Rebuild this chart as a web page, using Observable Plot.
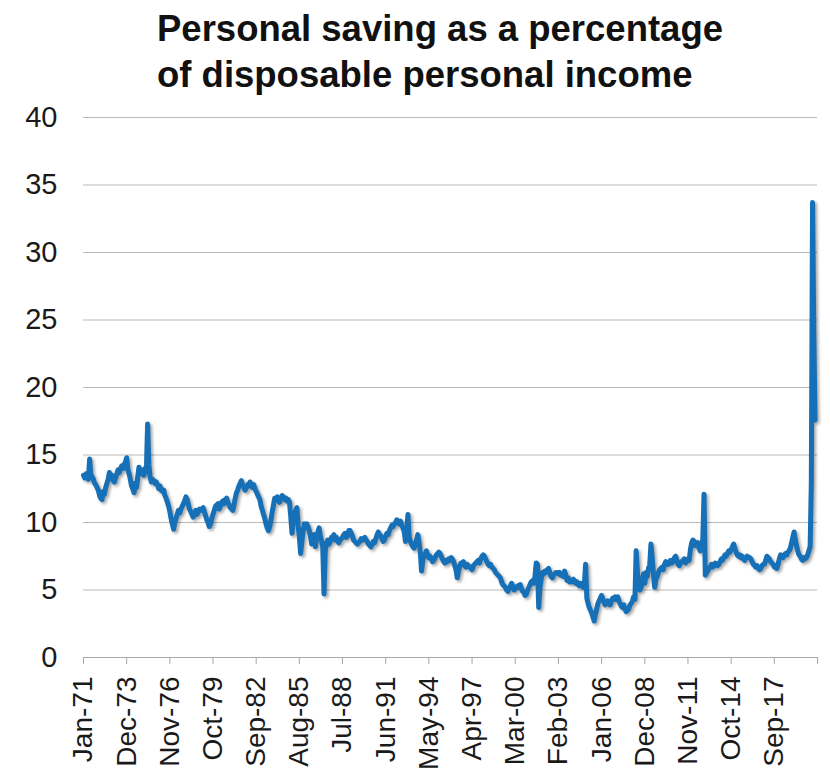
<!DOCTYPE html>
<html>
<head>
<meta charset="utf-8">
<script src="https://cdn.jsdelivr.net/npm/d3@7"></script>
<script src="https://cdn.jsdelivr.net/npm/@observablehq/plot@0.6"></script>
<style>
  html, body { margin: 0; padding: 0; background: #fff; }
  #wrap { position: relative; width: 830px; height: 771px; overflow: hidden; font-family: "Liberation Sans", Arial, sans-serif; }
  #title { position: absolute; left: 157px; top: 6px; font-size: 36.5px; font-weight: bold; line-height: 46px; color: #111; white-space: nowrap; }
  #chart { position: absolute; left: 0; top: 100px; }
</style>
</head>
<body>
<div id="wrap">
  <div id="title">Personal saving as a percentage<br>of disposable personal income</div>
  <div id="chart"></div>
</div>
<script>
// ---- Data (monthly personal saving rate, % of disposable personal income) ----
const firstYear = 1971;           // series starts January 1971
const savingRate = [
  // 1971
  13.5, 13.3, 13.6, 13.4, 13.2, 14.7, 13.5, 13.4, 13.2, 12.9, 12.8, 12.6,
  // 1972
  12.4, 12.0, 11.8, 11.7, 12.3, 12.1, 12.6, 12.9, 13.2, 13.7, 13.4, 13.5,
  // 1973
  13.1, 13.0, 13.3, 13.6, 13.9, 13.7, 14.0, 14.2, 14.0, 14.3, 14.5, 14.8,
  // 1974
  13.9, 13.6, 13.2, 12.7, 12.5, 12.2, 12.9, 12.6, 13.4, 14.1, 13.6, 13.9,
  // 1975
  13.6, 13.5, 14.0, 13.8, 17.3, 14.3, 13.4, 13.0, 13.2, 13.1, 12.9, 13.0,
  // 1976
  12.8, 12.5, 12.7, 12.4, 12.3, 12.4, 12.0, 11.8, 11.5, 11.2, 10.8, 10.3,
  // 1977
  9.9, 9.5, 10.0, 10.3, 10.6, 10.9, 10.7, 11.0, 11.2, 11.4, 11.6, 11.9,
  // 1978
  11.7, 11.3, 11.0, 10.8, 10.6, 10.4, 10.7, 10.9, 10.6, 10.8, 11.0, 10.9,
  // 1979
  11.0, 11.1, 10.8, 10.5, 10.2, 10.0, 9.7, 9.9, 10.3, 10.6, 10.9, 11.2,
  // 1980
  11.3, 11.4, 11.0, 11.2, 11.5, 11.6, 11.4, 11.7, 11.8, 11.5, 11.3, 11.1,
  // 1981
  11.0, 10.9, 11.3, 11.8, 12.2, 12.4, 12.7, 12.9, 13.1, 12.8, 12.6, 12.4,
  // 1982
  12.6, 12.8, 12.7, 13.0, 12.8, 12.6, 12.8, 12.5, 12.3, 12.1, 11.9, 11.7,
  // 1983
  11.2, 10.9, 10.6, 10.3, 9.9, 9.6, 9.4, 9.7, 10.2, 10.8, 11.3, 11.8,
  // 1984
  11.7, 11.9, 11.6, 11.5, 11.8, 12.0, 11.9, 11.7, 11.8, 11.6, 11.7, 11.5,
  // 1985
  10.4, 9.2, 10.1, 10.5, 10.9, 11.1, 9.8, 8.9, 7.7, 8.6, 9.4, 9.9,
  // 1986
  9.6, 9.9, 9.7, 9.4, 9.0, 8.4, 8.8, 9.1, 8.2, 8.9, 9.3, 9.6,
  // 1987
  9.0, 8.6, 8.2, 4.7, 7.9, 8.5, 8.7, 8.4, 8.6, 8.9, 8.8, 9.1,
  // 1988
  8.7, 8.9, 8.6, 8.5, 8.7, 8.8, 8.9, 9.1, 9.2, 8.9, 9.0, 9.4,
  // 1989
  9.4, 9.2, 9.0, 8.7, 8.6, 8.5, 8.4, 8.5, 8.6, 8.8, 8.7, 8.8,
  // 1990
  8.9, 8.7, 8.6, 8.4, 8.3, 8.2, 8.4, 8.6, 8.5, 8.8, 9.1, 9.3,
  // 1991
  9.1, 9.0, 8.8, 8.6, 8.7, 9.0, 9.2, 9.1, 9.4, 9.6, 9.8, 9.7,
  // 1992
  9.9, 10.0, 10.2, 10.1, 9.9, 10.1, 9.8, 9.6, 9.3, 8.6, 9.5, 10.6,
  // 1993
  8.9, 8.6, 8.4, 8.2, 8.1, 8.4, 8.7, 9.1, 8.5, 7.8, 6.4, 7.2,
  // 1994
  7.5, 7.7, 7.9, 7.6, 7.4, 7.5, 7.3, 7.1, 7.2, 7.4, 7.6, 7.7,
  // 1995
  7.8, 7.7, 7.5, 7.3, 7.1, 7.0, 7.2, 7.1, 7.3, 7.2, 7.4, 7.3,
  // 1996
  7.1, 6.8, 6.5, 5.9, 6.4, 6.8, 7.0, 6.9, 7.1, 6.8, 6.7, 6.9,
  // 1997
  6.8, 6.7, 6.6, 6.5, 6.8, 6.9, 7.0, 7.1, 7.2, 7.0, 7.3, 7.5,
  // 1998
  7.6, 7.5, 7.3, 7.1, 6.9, 6.8, 6.9, 6.7, 6.6, 6.5, 6.3, 6.2,
  // 1999
  6.1, 6.0, 5.9, 5.6, 5.4, 5.3, 5.2, 5.0, 4.9, 5.1, 5.3, 5.5,
  // 2000
  5.3, 5.0, 5.1, 5.2, 5.3, 5.2, 5.4, 5.1, 4.9, 4.8, 4.6, 4.7,
  // 2001
  5.0, 5.2, 5.4, 5.6, 5.7, 5.5, 6.0, 7.0, 6.9, 3.7, 5.2, 5.8,
  // 2002
  6.3, 6.2, 6.4, 6.3, 6.5, 6.6, 6.3, 6.0, 5.9, 6.1, 6.2, 6.3,
  // 2003
  6.3, 6.2, 6.3, 6.1, 6.2, 6.0, 6.4, 6.1, 5.7, 5.9, 5.6, 5.7,
  // 2004
  5.6, 5.8, 5.7, 5.5, 5.6, 5.4, 5.3, 5.5, 5.4, 5.2, 5.4, 6.9,
  // 2005
  4.4, 4.0, 3.7, 3.5, 3.3, 3.0, 2.7, 3.2, 3.6, 4.0, 4.2, 4.4,
  // 2006
  4.6, 4.3, 4.1, 3.9, 4.0, 4.2, 4.1, 3.9, 4.2, 4.4, 4.3, 4.5,
  // 2007
  4.3, 4.5, 4.2, 4.0, 3.8, 3.7, 3.9, 3.6, 3.4, 3.5, 3.6, 3.9,
  // 2008
  4.0, 4.2, 4.5, 4.3, 7.9, 6.4, 5.4, 5.0, 5.2, 5.7, 6.2, 5.5,
  // 2009
  6.3, 6.0, 6.6, 6.8, 8.4, 7.4, 6.2, 5.2, 5.8, 6.0, 6.3, 6.5,
  // 2010
  6.6, 6.7, 6.5, 6.9, 7.1, 7.0, 6.9, 7.1, 7.2, 7.0, 7.1, 7.4,
  // 2011
  7.5, 7.2, 6.9, 6.8, 7.0, 7.1, 7.2, 7.3, 7.0, 7.1, 7.3, 7.2,
  // 2012
  8.0, 8.5, 8.7, 8.6, 8.3, 8.4, 8.5, 8.1, 7.9, 8.2, 8.8, 12.1,
  // 2013
  6.1, 6.3, 6.4, 6.6, 6.7, 6.9, 6.7, 6.8, 7.0, 6.9, 6.8, 6.9,
  // 2014
  7.1, 7.3, 7.2, 7.4, 7.6, 7.5, 7.7, 7.9, 7.8, 8.0, 8.2, 8.4,
  // 2015
  8.1, 7.8, 7.6, 7.5, 7.6, 7.4, 7.5, 7.3, 7.2, 7.4, 7.5, 7.4,
  // 2016
  7.4, 7.3, 7.1, 6.9, 6.8, 6.7, 6.8, 6.6, 6.5, 6.6, 6.8, 6.9,
  // 2017
  6.9, 7.2, 7.5, 7.4, 7.3, 7.1, 7.0, 6.9, 6.7, 6.8, 6.6, 6.9,
  // 2018
  7.3, 7.6, 7.5, 7.4, 7.6, 7.7, 7.6, 7.8, 7.9, 8.1, 8.5, 8.9,
  // 2019
  9.3, 8.7, 8.3, 7.9, 7.6, 7.5, 7.3, 7.2, 7.4, 7.3, 7.4, 7.6,
  // 2020
  7.9, 8.2, 12.8, 33.7, 24.2, 17.6
];

// x-axis tick labels (one every 35 months, starting Jan-71); last tick (Aug-20) has no label
const tickLabels = ["Jan-71", "Dec-73", "Nov-76", "Oct-79", "Sep-82", "Aug-85", "Jul-88", "Jun-91",
  "May-94", "Apr-97", "Mar-00", "Feb-03", "Jan-06", "Dec-08", "Nov-11", "Oct-14", "Sep-17"];
const tickStepMonths = 35;
const tickCount = 18;
const yTicks = [0, 5, 10, 15, 20, 25, 30, 35, 40];

// ---- Build table ----
const data = savingRate.map((v, i) => ({ date: new Date(Date.UTC(firstYear, i, 1)), value: v }));
const tickDates = d3.range(tickCount).map(k => new Date(Date.UTC(firstYear, k * tickStepMonths, 1)));
const labelByTime = new Map(tickDates.map((d, i) => [+d, tickLabels[i] ?? ""]));

const chart = Plot.plot({
  width: 830,
  height: 671,
  marginLeft: 83,
  marginRight: 13,
  marginTop: 17,
  marginBottom: 114,
  style: { fontFamily: "'Liberation Sans', Arial, sans-serif", background: "transparent", overflow: "visible" },
  x: { type: "utc", domain: [tickDates[0], tickDates[tickDates.length - 1]] },
  y: { domain: [0, 40] },
  marks: [
    Plot.ruleY(yTicks.filter(d => d > 0), { stroke: "#b9b9b9", strokeWidth: 1 }),
    Plot.ruleY([0], { stroke: "#a8a8a8", strokeWidth: 1 }),
    Plot.axisY({ ticks: yTicks, tickSize: 0, tickPadding: 26, fontSize: 29, fill: "#1a1a1a", label: null }),
    Plot.axisX({
      ticks: tickDates,
      tickFormat: d => labelByTime.get(+d) ?? "",
      tickRotate: -90,
      tickSize: 7,
      tickPadding: 12,
      fontSize: 28,
      stroke: "#a8a8a8",
      fill: "#1a1a1a",
      label: null
    }),
    Plot.lineY(data, { x: "date", y: "value", stroke: "#1670b8", strokeWidth: 5, strokeLinejoin: "round", strokeLinecap: "round" })
  ]
});

const lineG = chart.querySelector('g[aria-label="line"]');
if (lineG) lineG.style.filter = "drop-shadow(2px 2px 1.5px rgba(0,0,0,0.35))";
document.getElementById("chart").appendChild(chart);
</script>
</body>
</html>
